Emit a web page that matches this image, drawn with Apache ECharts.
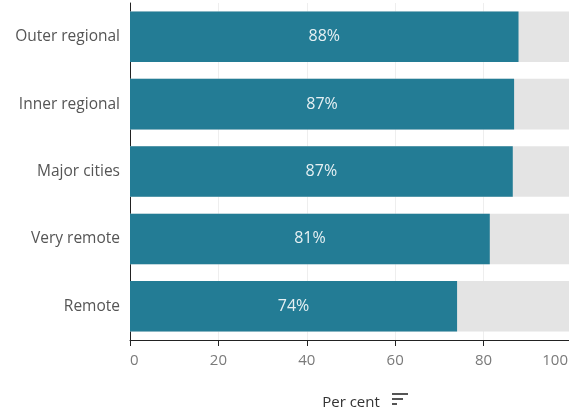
<!DOCTYPE html>
<html>
<head>
<meta charset="utf-8">
<script src="https://cdn.jsdelivr.net/npm/echarts@6/dist/echarts.min.js"></script>
<style>
  html, body { margin: 0; padding: 0; background: #fff; }
  #chart { width: 569px; height: 415px; }
</style>
</head>
<body>
<div id="chart"></div>
<script>
// Share of people by remoteness area (per cent), top to bottom
const categories = ['Outer regional', 'Inner regional', 'Major cities', 'Very remote', 'Remote'];
const values = [87.9, 86.9, 86.6, 81.4, 74.0];
const fullScale = [100, 100, 100, 100, 100];
const xTicks = [0, 20, 40, 60, 80, 100];

const FONT = '"Open Sans", "Noto Sans", sans-serif';
const X_MAX = xTicks[xTicks.length - 1];
const chart = echarts.init(document.getElementById('chart'));

chart.setOption({
  animation: false,
  textStyle: { fontFamily: FONT },
  grid: { left: 130, top: 3, right: -3, bottom: 75, outerBoundsMode: 'none' },
  xAxis: {
    type: 'value',
    min: xTicks[0],
    max: X_MAX,
    interval: xTicks[1] - xTicks[0],
    name: 'Per cent',
    nameLocation: 'middle',
    nameGap: 55,
    nameTextStyle: { color: '#333', fontSize: 15, fontFamily: FONT },
    axisLine: { show: true, lineStyle: { color: '#222', width: 1 } },
    axisTick: { show: true, length: 6, lineStyle: { color: '#222' } },
    axisLabel: {
      color: '#7a7a7a', fontSize: 15, margin: 13, fontFamily: FONT,
      alignMinLabel: 'left', alignMaxLabel: 'right',
      // keep the last tick label inside the page edge
      formatter: v => v === X_MAX ? '{last|' + v + '}' : String(v),
      rich: { last: { color: '#7a7a7a', fontSize: 15, fontFamily: FONT, padding: [0, 4, 0, 0] } }
    },
    splitLine: { show: true, lineStyle: { color: '#eeeeee', width: 1 } }
  },
  yAxis: {
    type: 'category',
    data: categories,
    inverse: true,
    axisLine: { show: true, lineStyle: { color: '#222', width: 1 } },
    axisTick: { show: false },
    axisLabel: { color: '#555', fontSize: 15.5, margin: 10, fontFamily: FONT }
  },
  series: [
    {
      type: 'bar',
      data: fullScale,
      barWidth: '75%',
      barGap: '-100%',
      silent: true,
      itemStyle: { color: '#e4e4e4' },
      z: 1
    },
    {
      type: 'bar',
      data: values,
      barWidth: '75%',
      itemStyle: { color: '#237c95' },
      label: {
        show: true,
        position: 'inside',
        color: '#e6f0f3',
        fontSize: 16,
        fontFamily: FONT,
        formatter: p => Math.round(p.value) + '%'
      },
      z: 2
    }
  ],
  graphic: [
    // sort indicator next to the axis title
    { type: 'rect', left: 392, top: 393, shape: { width: 16, height: 2 }, style: { fill: '#555' } },
    { type: 'rect', left: 392, top: 398, shape: { width: 11, height: 2 }, style: { fill: '#555' } },
    { type: 'rect', left: 392, top: 403, shape: { width: 5, height: 2 }, style: { fill: '#555' } }
  ]
});
</script>
</body>
</html>
